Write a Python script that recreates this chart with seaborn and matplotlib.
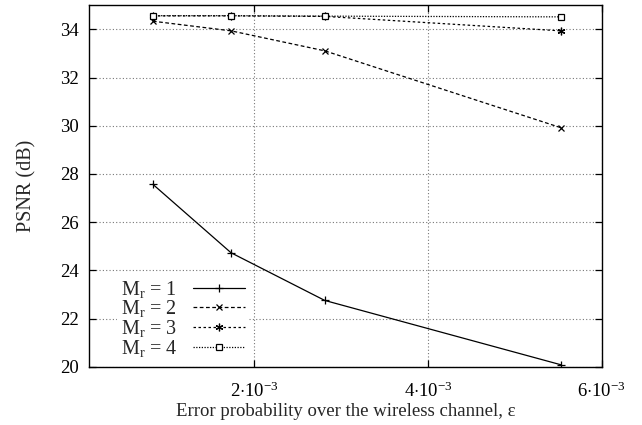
import seaborn as sns
import matplotlib.pyplot as plt
import matplotlib.ticker as mticker
import pandas as pd

# values
eps = [0.83e-3, 1.73e-3, 2.81e-3, 5.53e-3]
psnr_m1 = [27.57, 24.73, 22.75, 20.08]
psnr_m2 = [34.34, 33.94, 33.11, 29.92]
psnr_m3 = [34.56, 34.56, 34.54, 33.94]
psnr_m4 = [34.57, 34.57, 34.55, 34.52]
labels = ["M$_\\mathregular{r}$ = 1", "M$_\\mathregular{r}$ = 2",
          "M$_\\mathregular{r}$ = 3", "M$_\\mathregular{r}$ = 4"]

sns.set_theme(style="ticks")
plt.rcParams["font.family"] = ["Liberation Serif", "DejaVu Serif"]
plt.rcParams["mathtext.fontset"] = "custom"
plt.rcParams["mathtext.rm"] = "Liberation Serif"
plt.rcParams["mathtext.it"] = "Liberation Serif:italic"
plt.rcParams["font.size"] = 13.5

fig, ax = plt.subplots(figsize=(6.42, 4.25), dpi=100)
fig.subplots_adjust(left=89.5 / 642, right=601.7 / 642,
                    bottom=1 - 366.7 / 425, top=1 - 5.3 / 425)

series = [psnr_m1, psnr_m2, psnr_m3, psnr_m4]
styles = [
    dict(linestyle="-", marker="+", markersize=5.5, mfc="black"),
    dict(linestyle=(0, (3, 2)), marker="x", markersize=4.5, mfc="black"),
    dict(linestyle=(0, (2, 2)), marker=(6, 2, 0), markersize=5.5, mfc="black"),
    dict(linestyle=(0, (1, 1.2)), marker="s", markersize=4.5, mfc="white"),
]
for lab, vals, st in zip(labels, series, styles):
    df = pd.DataFrame({"eps": eps, "psnr": vals})
    sns.lineplot(data=df, x="eps", y="psnr", ax=ax, color="black", lw=0.9,
                 label=lab, mec="black", mew=0.9, **st)

ax.set_xlim(1e-4, 6e-3)
ax.set_ylim(20, 35)
ax.set_xticks([2e-3, 4e-3, 6e-3])
ax.set_yticks(range(20, 35, 2))
ax.xaxis.set_major_formatter(mticker.FuncFormatter(
    lambda v, p: "%d$\\cdot$10$^{\\mathregular{-3}}$" % round(v * 1e3)))

ax.grid(True, color="#777777", linestyle=(0, (1, 2)), lw=0.8)
ax.set_axisbelow(True)
ax.tick_params(direction="in", length=5, width=0.9, top=True, right=True,
               labelsize=13.5, colors="black", pad=8)
ax.tick_params(axis="x", pad=11)
for s in ax.spines.values():
    s.set_color("black")
    s.set_linewidth(1.0)

ax.set_xlabel("Error probability over the wireless channel, ε", fontsize=13.5,
              labelpad=1)
ax.set_ylabel("PSNR (dB)", fontsize=14.5, labelpad=17)

leg = ax.legend(loc="lower left", bbox_to_anchor=(0.035, -0.014), frameon=True,
                framealpha=1, edgecolor="none", fancybox=False,
                markerfirst=False, handlelength=2.6, handletextpad=0.8,
                labelspacing=-0.07, borderpad=0.15, fontsize=14.5)
leg.get_frame().set_facecolor("white")

fig.savefig("out.png", dpi=100)
